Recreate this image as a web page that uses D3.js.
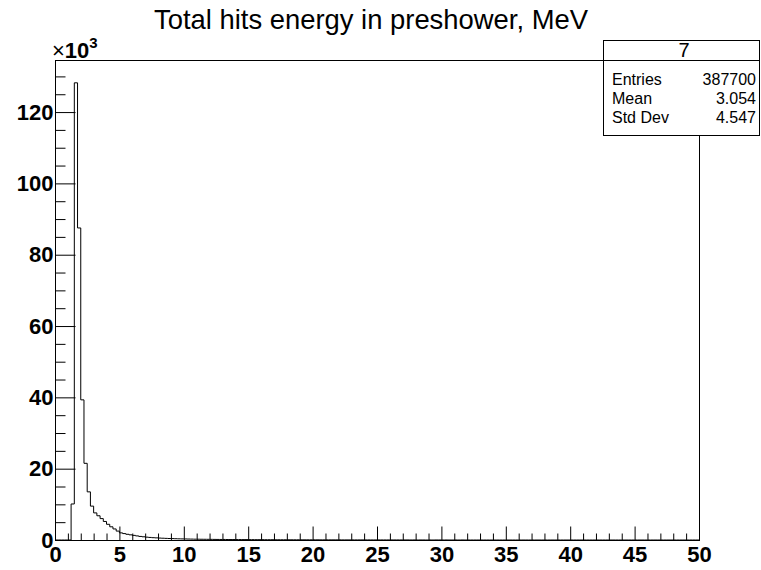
<!DOCTYPE html>
<html><head><meta charset="utf-8">
<script src="https://cdn.jsdelivr.net/npm/d3@7"></script>
<style>body{margin:0;background:#fff}svg{display:block}text{font-family:"Liberation Sans",Arial,sans-serif}</style>
</head><body>
<script>
// bin width 0.25 from 0 to 50 (200 bins), values in thousands
const binWidth = 0.25;
const xMin = 0, xMax = 50;
const counts = [
 0,0,0,0,0, 10.1,128.2,87.5,39.3,21.5,13.5,9.5,
 7.6,6.8,6.0,5.2,4.4,3.7,3.1,2.5,
 2.0,1.8,1.6,1.45,1.3,1.15,1.0,0.9,0.8,0.72,0.65,0.6,0.54,0.5,0.46,0.42,0.39,0.36,0.33,0.31,
 0.29,0.27,0.25,0.23,0.22,0.21,0.2,0.19,0.18,0.17,0.16,0.15,0.15,0.14,0.13,0.13,0.12,0.12,0.11,0.11,
 0.1,0.1,0.09,0.09,0.09,0.08,0.08,0.08,0.07,0.07,0.07,0.07,0.06,0.06,0.06,0.06,0.05,0.05,0.05,0.05,
 0.05,0.05,0.04,0.04,0.04,0.04,0.04,0.04,0.04,0.03,0.03,0.03,0.03,0.03,0.03,0.03,0.03,0.03,0.02,0.02,
 0.02,0.02,0.02,0.02,0.02,0.02,0.02,0.02,0.02,0.02,0.01,0.02,
 0,0.01,0.01,0,0.01,0,0.01,0.01,0,0.01,0,0,0.01,0,0.01,0,
 0,0,0,0,0,0,0,0,0,0,0,0,0,0,0,0,0,0,0,0,0,0,0,0,0,0,0,0,0,0,0,0,0,0,0,0,0,0,0,0,0,0,0,0,0,0,0,0,0,0,0,0,0,0,0,0,0,0,0,0,0,0,0,0,0,0,0,0,0,0,0,0,0,0,0,0
];
const xTickValues = [0,5,10,15,20,25,30,35,40,45,50];
const yTickValues = [0,20,40,60,80,100,120];
const title = "Total hits energy in preshower, MeV";
const statsName = "7";
const statsLabels = ["Entries","Mean","Std Dev"];
const statsValues = ["387700","3.054","4.547"];

const W = 761, H = 570;
const L = 55, R = 699, T = 60, B = 540;
const yMax = 134.6;
const svg = d3.select("body").append("svg").attr("width",W).attr("height",H);
const x = d3.scaleLinear().domain([xMin,xMax]).range([L,R]);
const y = d3.scaleLinear().domain([0,yMax]).range([B,T]);

// frame
svg.append("rect").attr("x",L+0.5).attr("y",T+0.5).attr("width",R-L).attr("height",B-T)
  .attr("fill","none").attr("stroke","#000").attr("stroke-width",1);

// histogram
const bins = counts.slice(0, Math.round((xMax-xMin)/binWidth)).map((v,i)=>({lo:xMin+i*binWidth, hi:xMin+(i+1)*binWidth, v}));
const pts = [[xMin,0]];
bins.forEach(b=>{pts.push([b.lo,b.v]);pts.push([b.hi,b.v]);});
pts.push([xMax,0]);
svg.append("path").attr("d", d3.line().x(d=>x(d[0])).y(d=>y(d[1]))(pts))
  .attr("fill","none").attr("stroke","#000").attr("stroke-width",1);

// x axis
const xMinor = d3.range(0,51,1).filter(v=>v%5!==0);
const gx = svg.append("g").attr("transform",`translate(0,${B+0.5})`);
gx.call(d3.axisBottom(x).tickValues(xMinor).tickSize(-7).tickFormat(""));
const gx2 = svg.append("g").attr("transform",`translate(0,${B+0.5})`);
gx2.call(d3.axisBottom(x).tickValues(xTickValues).tickSize(-14).tickFormat(d3.format("d")));
[gx,gx2].forEach(g=>{g.select(".domain").remove();g.selectAll("line").attr("stroke","#000");});
gx2.selectAll("text").attr("y",6).attr("dy","0.71em").attr("font-size",22).attr("font-weight","bold").attr("fill","#000");

// y axis
const yMinor = d3.range(0,135,5).filter(v=>v%20!==0);
const gy = svg.append("g").attr("transform",`translate(${L+0.5},0)`);
gy.call(d3.axisLeft(y).tickValues(yMinor).tickSize(-10).tickFormat(""));
const gy2 = svg.append("g").attr("transform",`translate(${L+0.5},0)`);
gy2.call(d3.axisLeft(y).tickValues(yTickValues).tickSize(-20).tickFormat(d3.format("d")));
[gy,gy2].forEach(g=>{g.select(".domain").remove();g.selectAll("line").attr("stroke","#000");});
gy2.selectAll("text").attr("x",-2).attr("font-size",22).attr("font-weight","bold").attr("fill","#000");

// exponent
const ex = svg.append("text").attr("x",L-3).attr("y",T-2).attr("font-size",22).attr("font-weight","bold").attr("fill","#000");
ex.append("tspan").attr("font-weight","normal").text("\u00d7");
ex.append("tspan").text("10");
ex.append("tspan").attr("dy",-10).attr("font-size",15).text("3");

// title
svg.append("text").attr("x",371).attr("y",29).attr("text-anchor","middle").attr("font-size",27.4).attr("fill","#000").text(title);

// stats box
const sx = 603, sy = 40, sw = 156, sh = 95;
svg.append("rect").attr("x",sx+0.5).attr("y",sy+0.5).attr("width",sw).attr("height",sh).attr("fill","#fff").attr("stroke","#000");
svg.append("line").attr("x1",sx).attr("x2",sx+sw).attr("y1",T+0.5).attr("y2",T+0.5).attr("stroke","#000");
svg.append("text").attr("x",sx+sw/2+3).attr("y",57).attr("text-anchor","middle").attr("font-size",20).text(statsName);
statsLabels.forEach((l,i)=>{
  svg.append("text").attr("x",sx+9).attr("y",85+i*19).attr("font-size",16).text(l);
  svg.append("text").attr("x",sx+sw-3).attr("y",85+i*19).attr("text-anchor","end").attr("font-size",16).text(statsValues[i]);
});
</script>
</body></html>
